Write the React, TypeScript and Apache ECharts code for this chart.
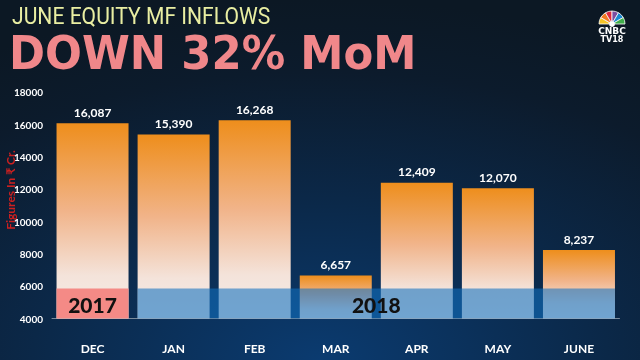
import React, { useEffect, useRef } from "react";
import * as echarts from "echarts";

const categories = ["DEC", "JAN", "FEB", "MAR", "APR", "MAY", "JUNE"];
const inflows = [16087, 15390, 16268, 6657, 12409, 12070, 8237];
const yTicks = { min: 4000, max: 18000, interval: 2000 };
const yearLabels = ["2017", "2018"];
const yearFrom = [0, 1];
const yearTo = [0, 6];
const yearTop = [5850, 5850];
const yearColors = ["#f48a86", "rgba(17,112,192,0.58)"];

const BAR_W = 72;

export default function App() {
  const ref = useRef<HTMLDivElement>(null);
  useEffect(() => {
    if (!ref.current) return;
    const chart = echarts.init(ref.current, null, { renderer: "svg" });
    const feathers = ["#f6c426", "#f37a22", "#e2293d", "#7c4ea0", "#1b88d0", "#40ae4a"];
    const logo: any[] = feathers.map((c, i) => ({
      type: "sector",
      shape: {
        cx: 612,
        cy: 24,
        r: 13,
        r0: 3,
        startAngle: Math.PI + (i * Math.PI) / 6,
        endAngle: Math.PI + ((i + 1) * Math.PI) / 6,
      },
      style: { fill: c, stroke: "#ffffff", lineWidth: 0.8 },
      z: 10,
    }));
    chart.setOption({
      animation: false,
      backgroundColor: {
        type: "radial",
        x: 0.5,
        y: 1,
        r: 1,
        colorStops: [
          { offset: 0, color: "#0b3b70" },
          { offset: 0.45, color: "#0b2848" },
          { offset: 0.8, color: "#0c1b2c" },
          { offset: 1, color: "#0c1824" },
        ],
      },
      grid: { left: 52, right: 20.5, top: 92.4, bottom: 41.5, containLabel: false },
      xAxis: {
        type: "category",
        data: categories,
        axisTick: { show: false },
        axisLine: { lineStyle: { color: "#7c8c9c", width: 1 } },
        axisLabel: {
          color: "#ffffff",
          fontWeight: "bold",
          fontSize: 12,
          fontFamily: "Lato",
          margin: 24,
        },
      },
      yAxis: {
        type: "value",
        min: yTicks.min,
        max: yTicks.max,
        interval: yTicks.interval,
        splitLine: { show: false },
        axisLine: { show: false },
        axisTick: { show: false },
        axisLabel: {
          color: "#ffffff",
          fontWeight: "bold",
          fontSize: 10,
          fontFamily: "Lato",
          margin: 9,
          formatter: (v: number) => String(v),
        },
      },
      series: [
        {
          type: "bar",
          data: inflows,
          barWidth: BAR_W,
          itemStyle: {
            color: {
              type: "linear",
              x: 0,
              y: 0,
              x2: 0,
              y2: 1,
              colorStops: [
                { offset: 0, color: "#ee8e1c" },
                { offset: 0.45, color: "#f1b48a" },
                { offset: 0.78, color: "#f4e3da" },
                { offset: 1, color: "#f4ece8" },
              ],
            },
          },
          label: {
            show: true,
            position: "top",
            distance: 5,
            color: "#ffffff",
            fontSize: 12,
            fontFamily: "Lato",
            fontWeight: "bold",
            formatter: (p: any) => Number(p.value).toLocaleString("en-US"),
          },
          z: 2,
        },
        {
          type: "custom",
          z: 5,
          data: yearLabels.map((_, i) => [yearFrom[i], yearTo[i], yearTop[i]]),
          encode: { x: [0, 1], y: 2 },
          renderItem: (params: any, api: any) => {
            const i = params.dataIndex;
            const tl = api.coord([api.value(0), api.value(2)]);
            const br = api.coord([api.value(1), yTicks.min]);
            const x0 = tl[0] - BAR_W / 2;
            const x1 = br[0] + BAR_W / 2;
            return {
              type: "group",
              children: [
                {
                  type: "rect",
                  shape: { x: x0, y: tl[1], width: x1 - x0, height: br[1] - tl[1] },
                  style: { fill: yearColors[i] },
                },
                {
                  type: "text",
                  style: {
                    text: yearLabels[i],
                    x: (x0 + x1) / 2,
                    y: (tl[1] + br[1]) / 2 + 1,
                    fill: "#111111",
                    font: "900 21px Lato",
                    align: "center",
                    verticalAlign: "middle",
                  },
                },
              ],
            };
          },
        },
      ],
      graphic: [
        {
          type: "text",
          x: 12,
          y: 28,
          scaleX: 0.88,
          style: {
            text: "JUNE EQUITY MF INFLOWS",
            fill: "#e9eea2",
            font: "24px Roboto",
            verticalAlign: "bottom",
          },
        },
        {
          type: "text",
          x: 9,
          y: 76,
          scaleX: 0.944,
          style: {
            text: "DOWN 32% MoM",
            font: "bold 46px 'DejaVu Sans'",
            fill: "#f0878a",
            verticalAlign: "bottom",
          },
        },
        {
          type: "text",
          x: 10,
          y: 190,
          rotation: Math.PI / 2,
          style: {
            text: "Figures In ₹ Cr.",
            fill: "#cc2020",
            font: "bold 12px Lato",
            align: "center",
            verticalAlign: "middle",
          },
        },
        ...logo,
        {
          type: "circle",
          shape: { cx: 612, cy: 24, r: 3 },
          style: { fill: "#ffffff" },
          z: 11,
        },
        {
          type: "text",
          x: 612,
          y: 31,
          style: {
            text: "CNBC",
            fill: "#ffffff",
            font: "900 9px 'DejaVu Sans'",
            align: "center",
            verticalAlign: "middle",
          },
          z: 11,
        },
        {
          type: "text",
          x: 612,
          y: 39,
          style: {
            text: "TV18",
            fill: "#ffffff",
            font: "bold 8px 'DejaVu Sans'",
            align: "center",
            verticalAlign: "middle",
          },
          z: 11,
        },
      ],
    });
    return () => chart.dispose();
  }, []);
  return <div ref={ref} style={{ width: 640, height: 360, position: "fixed", left: 0, top: 0 }} />;
}
